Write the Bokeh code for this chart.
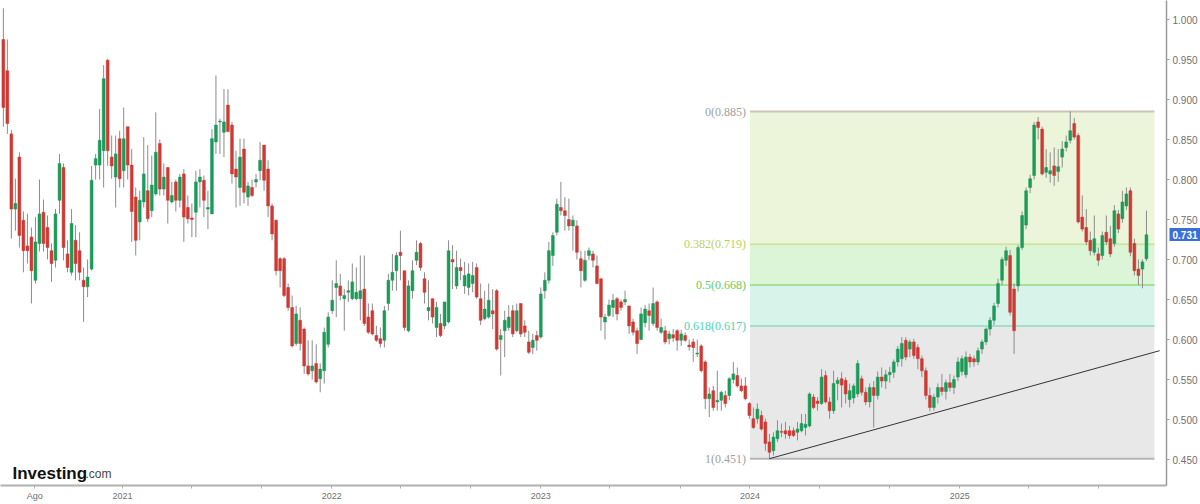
import pandas as pd
from bokeh.plotting import figure
from bokeh.models import (ColumnDataSource, FixedTicker, Label, Range1d, LinearAxis,
                          NumeralTickFormatter, BoxAnnotation)
from bokeh.embed import file_html
from bokeh.resources import INLINE
from bokeh.core.properties import value

# ---------------- data (weekly candles) ----------------
first_week = "2020-06-07"

opens = [
    .975, .936, .857, .763, .828, .749, .717, .728, .674, .720,
    .759, .740, .711, .699, .774, .815, .707, .684, .724, .711,
    .674, .666, .688, .818, .818, .836, .949, .828, .803, .851,
    .811, .866, .818, .778, .747, .772, .786, .761, .782, .845,
    .788, .815, .772, .797, .774, .807, .765, .752, .759, .797,
    .799, .763, .757, .847, .872, .859, .893, .868, .813, .790,
    .838, .778, .790, .797, .811, .843, .813, .767, .749, .701,
    .701, .665, .640, .595, .624, .613, .567, .561, .570, .551,
    .561, .594, .636, .665, .667, .651, .659, .651, .651, .651,
    .663, .628, .636, .605, .601, .599, .645, .674, .686, .709,
    .686, .611, .661, .699, .720, .676, .636, .651, .615, .620,
    .617, .622, .700, .667, .690, .667, .665, .670, .690, .651,
    .626, .628, .636, .661, .600, .611, .615, .636, .611, .645,
    .617, .597, .590, .605, .603, .661, .674, .705, .734, .765,
    .761, .750, .742, .742, .701, .674, .705, .707, .692, .676,
    .622, .630, .640, .651, .647, .647, .642, .622, .611, .600,
    .621, .636, .620, .647, .609, .611, .601, .606, .611, .599,
    .605, .593, .597, .582, .592, .572, .526, .536, .522, .524,
    .530, .530, .550, .555, .542, .542, .520, .501, .501, .505,
    .497, .472, .461, .476, .485, .486, .486, .486, .484, .486,
    .490, .492, .528, .523, .520, .555, .522, .511, .545, .551,
    .549, .525, .527, .532, .551, .534, .522, .540, .530, .553,
    .548, .556, .559, .572, .576, .599, .588, .597, .590, .576,
    .561, .530, .515, .528, .540, .535, .546, .540, .553, .560,
    .556, .578, .576, .572, .588, .597, .613, .624, .645, .674,
    .699, .705, .663, .667, .715, .743, .790, .805, .872, .863,
    .809, .807, .817, .810, .828, .840, .849, .870, .855, .753,
    .740, .724, .709, .707, .705, .734, .726, .720, .757, .751,
    .767, .786, .720, .688, .688, .701,
]

highs = [
    1.014, .975, .862, .801, .834, .760, .757, .740, .753, .800,
    .775, .755, .720, .763, .832, .820, .724, .763, .743, .734,
    .690, .700, .817, .832, .888, .943, .951, .855, .855, .861,
    .890, .866, .838, .790, .786, .853, .843, .830, .884, .850,
    .820, .815, .797, .800, .807, .813, .780, .770, .811, .813,
    .805, .786, .863, .930, .876, .913, .913, .872, .836, .851,
    .851, .797, .800, .807, .847, .843, .824, .770, .750, .703,
    .703, .670, .655, .642, .640, .615, .599, .599, .594, .570,
    .615, .634, .674, .699, .682, .663, .674, .695, .690, .705,
    .705, .645, .645, .617, .615, .642, .682, .707, .709, .736,
    .686, .674, .699, .724, .722, .684, .674, .651, .647, .632,
    .647, .724, .718, .711, .701, .697, .695, .697, .695, .670,
    .661, .670, .663, .663, .613, .636, .643, .643, .645, .645,
    .624, .611, .607, .611, .665, .684, .722, .734, .776, .797,
    .778, .776, .755, .749, .711, .711, .715, .711, .705, .676,
    .632, .650, .657, .653, .650, .661, .642, .626, .615, .640,
    .643, .645, .665, .649, .626, .617, .611, .613, .613, .612,
    .609, .600, .601, .600, .594, .574, .540, .542, .561, .536,
    .536, .553, .572, .565, .551, .553, .522, .515, .520, .511,
    .501, .482, .484, .499, .495, .497, .492, .490, .497, .507,
    .507, .534, .532, .528, .563, .561, .528, .561, .553, .559,
    .553, .545, .545, .574, .555, .540, .545, .548, .560, .565,
    .562, .566, .575, .592, .603, .603, .600, .601, .594, .580,
    .565, .540, .532, .545, .557, .550, .557, .555, .578, .580,
    .585, .582, .580, .590, .600, .615, .628, .646, .676, .703,
    .716, .712, .670, .718, .760, .790, .806, .872, .878, .866,
    .838, .834, .840, .838, .848, .855, .885, .877, .858, .780,
    .763, .735, .755, .715, .735, .755, .742, .768, .762, .786,
    .790, .790, .726, .700, .700, .761,
]

lows = [
    .866, .857, .726, .736, .715, .684, .695, .645, .670, .710,
    .710, .700, .672, .690, .757, .699, .684, .680, .674, .674,
    .622, .653, .686, .800, .800, .790, .817, .801, .765, .790,
    .790, .800, .722, .705, .724, .765, .747, .753, .780, .780,
    .780, .745, .770, .760, .765, .722, .745, .728, .728, .765,
    .753, .738, .757, .832, .832, .828, .859, .795, .765, .767,
    .770, .767, .778, .790, .799, .786, .753, .724, .680, .665,
    .653, .636, .590, .592, .586, .557, .555, .550, .545, .534,
    .545, .590, .632, .628, .649, .611, .647, .649, .649, .624,
    .617, .607, .605, .597, .590, .590, .636, .661, .661, .674,
    .611, .609, .651, .693, .686, .645, .624, .620, .603, .603,
    .613, .620, .663, .663, .674, .657, .655, .659, .651, .618,
    .624, .626, .613, .586, .555, .578, .611, .603, .609, .603,
    .603, .582, .582, .586, .601, .651, .670, .692, .730, .755,
    .736, .736, .711, .700, .665, .672, .699, .690, .669, .611,
    .600, .628, .628, .624, .636, .643, .607, .605, .582, .599,
    .615, .611, .617, .611, .607, .594, .594, .597, .586, .592,
    .597, .586, .572, .578, .559, .513, .503, .511, .511, .511,
    .515, .524, .545, .540, .534, .524, .501, .488, .495, .486,
    .461, .451, .455, .472, .478, .476, .476, .478, .474, .484,
    .480, .490, .513, .511, .518, .520, .501, .507, .524, .515,
    .520, .515, .520, .528, .530, .518, .515, .490, .525, .540,
    .538, .546, .552, .566, .566, .574, .578, .576, .563, .553,
    .525, .510, .511, .520, .530, .525, .535, .532, .548, .555,
    .552, .565, .566, .568, .582, .593, .605, .618, .640, .668,
    .692, .630, .582, .660, .712, .738, .783, .800, .850, .805,
    .802, .796, .792, .797, .815, .835, .845, .850, .745, .735,
    .718, .705, .705, .692, .700, .718, .703, .716, .733, .746,
    .762, .704, .680, .668, .664, .698,
]

closes = [
    .890, .870, .763, .770, .730, .711, .711, .686, .722, .757,
    .720, .715, .695, .757, .820, .715, .690, .745, .695, .684,
    .666, .678, .799, .826, .849, .926, .836, .817, .832, .801,
    .851, .818, .760, .724, .774, .807, .751, .793, .834, .788,
    .803, .774, .780, .774, .803, .753, .751, .750, .797, .803,
    .774, .765, .851, .868, .873, .872, .860, .807, .803, .828,
    .784, .792, .780, .800, .824, .799, .767, .732, .686, .686,
    .655, .640, .592, .632, .595, .567, .557, .567, .547, .563,
    .609, .628, .649, .670, .655, .655, .661, .672, .659, .661,
    .620, .609, .607, .599, .595, .636, .674, .684, .705, .705,
    .615, .667, .686, .709, .690, .659, .640, .628, .640, .605,
    .647, .711, .697, .690, .686, .680, .682, .680, .653, .624,
    .638, .649, .632, .588, .605, .624, .628, .607, .636, .607,
    .609, .584, .599, .599, .657, .674, .711, .730, .769, .761,
    .755, .742, .749, .709, .686, .699, .711, .699, .670, .628,
    .628, .643, .649, .632, .640, .650, .617, .609, .595, .632,
    .638, .630, .645, .615, .615, .597, .607, .602, .599, .607,
    .599, .591, .590, .583, .561, .526, .532, .515, .524, .534,
    .520, .551, .557, .542, .536, .526, .505, .490, .513, .488,
    .470, .459, .478, .486, .484, .482, .480, .480, .488, .495,
    .494, .532, .515, .520, .553, .522, .511, .545, .549, .543,
    .532, .536, .542, .570, .534, .522, .540, .530, .553, .548,
    .556, .559, .572, .588, .595, .578, .597, .580, .576, .561,
    .530, .515, .528, .540, .535, .546, .540, .550, .572, .576,
    .578, .572, .572, .586, .597, .613, .624, .642, .670, .700,
    .711, .634, .611, .715, .755, .786, .801, .868, .865, .807,
    .815, .811, .805, .816, .838, .847, .861, .853, .747, .738,
    .722, .711, .726, .699, .730, .722, .707, .761, .738, .772,
    .782, .709, .686, .680, .697, .731,
]

# Fibonacci retracement drawing
fib_levels = [0.885, 0.719, 0.668, 0.617, 0.451]
fib_labels = ["0(0.885)", "0.382(0.719)", "0.5(0.668)", "0.618(0.617)", "1(0.451)"]
fib_start, fib_end = "2024-01-01", "2025-12-07"

# trend line drawing
trend_dates = ["2024-02-04", "2025-12-16"]
trend_values = [0.451, 0.586]

# axes
y_ticks = [0.45, 0.50, 0.55, 0.60, 0.65, 0.70, 0.75, 0.80, 0.85, 0.90, 0.95, 1.00]
x_tick_dates = ["2020-08-01", "2021-01-01", "2021-05-01", "2021-09-01",
                "2022-01-01", "2022-05-01", "2022-09-01", "2023-01-01",
                "2023-05-01", "2023-09-01", "2024-01-01", "2024-05-01",
                "2024-09-01", "2025-01-01", "2025-05-01", "2025-09-01"]
x_tick_labels = ["Ago", "2021", "", "", "2022", "", "", "2023", "", "",
                 "2024", "", "", "2025", "", ""]
last_price = 0.731

# ---------------- helpers ----------------
def ms(s):
    return pd.Timestamp(s).timestamp() * 1000.0

DAY = 86400000.0
dates = pd.date_range(first_week, periods=len(closes), freq="7D")
t = [d.timestamp() * 1000.0 for d in dates]

UP, DOWN = "#1b9a58", "#cc3a34"
colors = [UP if c >= o else DOWN for o, c in zip(opens, closes)]
src = ColumnDataSource(dict(t=t, o=opens, h=highs, l=lows, c=closes,
                            top=[max(o, c) for o, c in zip(opens, closes)],
                            bot=[min(o, c) for o, c in zip(opens, closes)],
                            col=colors))

x0, x1 = ms("2020-06-02"), ms("2025-12-28")
p = figure(width=1200, height=504, output_backend="svg", toolbar_location=None,
           x_range=Range1d(x0, x1), y_range=Range1d(0.4175, 1.02375),
           y_axis_location="right", min_border=0, min_border_bottom=19,
           outline_line_color=None,
           background_fill_color="white", border_fill_color="white")
p.xgrid.visible = False
p.ygrid.visible = False

# fib zones
fs, fe = ms(fib_start), ms(fib_end)
zone_cols = ["#ecf5d9", "#dcf5d6", "#d8f3ea", "#e8e8e8"]
for i, zc in enumerate(zone_cols):
    p.add_layout(BoxAnnotation(left=fs, right=fe, top=fib_levels[i], bottom=fib_levels[i + 1],
                               fill_color=zc, fill_alpha=1.0, line_color=None, level="underlay"))
line_cols = ["#cbc5b8", "#cfe5a2", "#a3e098", "#a5dec9", "#b5b5b5"]
p.segment(x0=[fs] * 5, x1=[fe] * 5, y0=fib_levels, y1=fib_levels,
          line_color=line_cols, line_width=2)
label_cols = ["#a0a0a0", "#b9d25e", "#68cd57", "#4fd2ac", "#a0a0a0"]
p.text(x=[fs] * 5, y=fib_levels, text=fib_labels, x_offset=-4,
       text_align="right", text_baseline="middle", text_color=label_cols,
       text_font=value("Liberation Serif"), text_font_size="12px")

# candles
p.segment(x0="t", x1="t", y0="l", y1="h", source=src, line_color="#8c8c8c", line_width=1)
p.vbar(x="t", width=5.0 * DAY, top="top", bottom="bot", source=src,
       fill_color="col", line_color="col", line_width=0.5)

# trend line
p.line(x=[ms(d) for d in trend_dates], y=trend_values, line_color="#333333", line_width=1)

# axes
ya = p.yaxis[0]
ya.ticker = FixedTicker(ticks=y_ticks)
ya.formatter = NumeralTickFormatter(format="0.000")
ya.axis_line_color = "#9a9a9a"
ya.axis_line_width = 1.5
ya.major_tick_line_color = "#9a9a9a"
ya.major_tick_out = 3
ya.major_tick_in = 0
ya.minor_tick_line_color = None
ya.major_label_standoff = 3
ya.major_label_text_font = "Liberation Sans"
ya.major_label_text_font_size = "10px"
ya.major_label_text_color = "#707070"

xa = p.xaxis[0]
tick_ms = [ms(d) for d in x_tick_dates]
xa.ticker = FixedTicker(ticks=tick_ms)
xa.major_label_overrides = {int(v): lab for v, lab in zip(tick_ms, x_tick_labels)}
xa.axis_line_color = "#b0b0b0"
xa.axis_line_width = 2
xa.major_tick_line_color = "#b0b0b0"
xa.major_tick_out = 3
xa.major_tick_in = 0
xa.minor_tick_line_color = None
xa.major_label_standoff = 2
xa.major_label_text_font = "Liberation Sans"
xa.major_label_text_font_size = "9px"
xa.major_label_text_color = "#707070"

# last price tag: a second right-hand axis with one tick; its wide inward tick
# forms the blue box and its label sits on top of it
tag_axis = LinearAxis(ticker=FixedTicker(ticks=[last_price]),
                      formatter=NumeralTickFormatter(format="0.000"),
                      axis_line_color=None, minor_tick_line_color=None,
                      major_tick_out=0, major_tick_in=31,
                      major_tick_line_color="#3b6fd8", major_tick_line_width=13,
                      major_tick_line_cap="butt",
                      major_label_standoff=-28,
                      major_label_text_color="white",
                      major_label_text_font="Liberation Sans",
                      major_label_text_font_size="10px",
                      major_label_text_font_style="bold")
p.add_layout(tag_axis, "right")

# Investing.com logo
p.add_layout(Label(x=x0, y=0.4325, x_offset=12, text="Investing", text_color="#111111",
                   text_font="Liberation Sans", text_font_size="17px", text_font_style="bold",
                   text_baseline="alphabetic"))
p.add_layout(Label(x=x0, y=0.4325, x_offset=85, text=".com", text_color="#444444",
                   text_font="Liberation Sans", text_font_size="12px",
                   text_baseline="alphabetic"))

open("out.html", "w").write(file_html(p, INLINE))
